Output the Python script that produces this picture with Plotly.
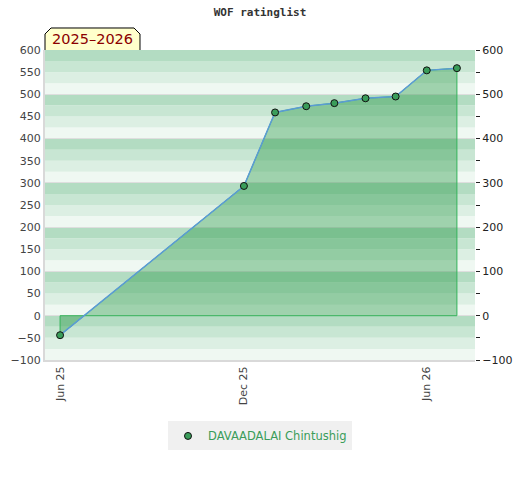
import plotly.graph_objects as go

# rating progress
dates = ["2025-06-01", "2025-12-01", "2026-01-01", "2026-02-01", "2026-03-01",
         "2026-04-01", "2026-05-01", "2026-06-01", "2026-07-01"]
ratings = [-44, 293, 459, 473, 480, 491, 495, 554, 559]
player = "DAVAADALAI Chintushig"
season = "2025–2026"

tick_dates = ["2025-06-01", "2025-12-01", "2026-06-01"]
left_ticks = list(range(-100, 601, 50))
right_ticks = list(range(-100, 601, 100))

band_colors = ["#eff8f2", "#dcefe3", "#c8e6d3", "#b3dcc2"]

fig = go.Figure()

# filled area, closed down to zero
poly_x = [dates[0]] + dates + [dates[-1], dates[0]]
poly_y = [0] + ratings + [0, 0]
fig.add_trace(go.Scatter(x=poly_x, y=poly_y, mode="lines", fill="toself",
                         fillcolor="rgba(28,147,61,0.38)",
                         line=dict(color="#34b45a", width=1),
                         showlegend=False, hoverinfo="skip"))
fig.add_trace(go.Scatter(x=dates, y=ratings, mode="lines",
                         line=dict(color="#5b9bd5", width=1.5),
                         showlegend=False))
fig.add_trace(go.Scatter(x=dates, y=ratings, mode="markers", name=player,
                         marker=dict(size=7, color="#3a9d5a",
                                     line=dict(color="#111", width=1))))
# dummy for right axis
fig.add_trace(go.Scatter(x=[None], y=[None], yaxis="y2", showlegend=False))

shapes = []
for i, b in enumerate(range(-100, 600, 25)):
    shapes.append(dict(type="rect", xref="paper", yref="y", x0=0, x1=1,
                       y0=b, y1=b + 25, layer="below", line_width=0,
                       fillcolor=band_colors[i % 4]))

# season tab
def px(x):
    return (x - 45) / 430

def py(y):
    return (360 - y) / 310

tab = [(45, 50), (45, 34), (51, 28), (134, 28), (140, 34), (140, 50)]
path = "M " + " L ".join(f"{px(a):.4f},{py(b):.4f}" for a, b in tab)
shapes.append(dict(type="path", xref="paper", yref="paper", path=path,
                   fillcolor="#ffffcc", line=dict(color="#000", width=1)))

fig.update_layout(
    width=520, height=480,
    margin=dict(l=45, r=45, t=50, b=120, autoexpand=False),
    paper_bgcolor="white", plot_bgcolor="rgba(0,0,0,0)",
    title=dict(text="<b>WOF ratinglist</b>", x=0.5, xanchor="center",
               y=0.982, yanchor="top", automargin=False,
               font=dict(family="DejaVu Sans Mono", size=11, color="#333")),
    shapes=shapes,
    annotations=[dict(text=season, xref="paper", yref="paper",
                      x=px(92.5), y=py(39.5), xanchor="center",
                      yanchor="middle", showarrow=False,
                      font=dict(family="DejaVu Sans", size=14.5, color="#8b0000"))],
    xaxis=dict(type="date", range=["2025-05-17", "2026-07-19"],
               tickvals=tick_dates, tickformat="%b %y", tickangle=-90,
               showgrid=False, zeroline=False, showline=True,
               linecolor="#d9d9d9", linewidth=2, automargin=False,
               tickfont=dict(family="DejaVu Sans", size=11, color="#444")),
    yaxis=dict(range=[-100, 600], tickvals=left_ticks, showgrid=False,
               zeroline=False, showline=True, linecolor="#d9d9d9", linewidth=2,
               automargin=False,
               tickfont=dict(family="DejaVu Sans", size=11, color="#444"),
               fixedrange=True),
    yaxis2=dict(range=[-100, 600], overlaying="y", side="right",
                tickvals=right_ticks, ticks="outside", ticklen=4,
                tickcolor="#222", showgrid=True, gridcolor="#dedede",
                zeroline=False, showline=False, automargin=False,
                minor=dict(tickvals=left_ticks, ticks="outside", ticklen=4,
                           tickcolor="#222", showgrid=False),
                tickfont=dict(family="DejaVu Sans", size=11, color="#222")),
    legend=dict(orientation="h", x=0.5, xanchor="center", y=-0.245,
                yanchor="middle", bgcolor="#f0f0f0", itemwidth=30,
                font=dict(family="DejaVu Sans", size=11.5, color="#3a9d5a")),
)

fig.write_html("out.html", config={"displayModeBar": False},
               post_script="document.body.style.margin='0';")
